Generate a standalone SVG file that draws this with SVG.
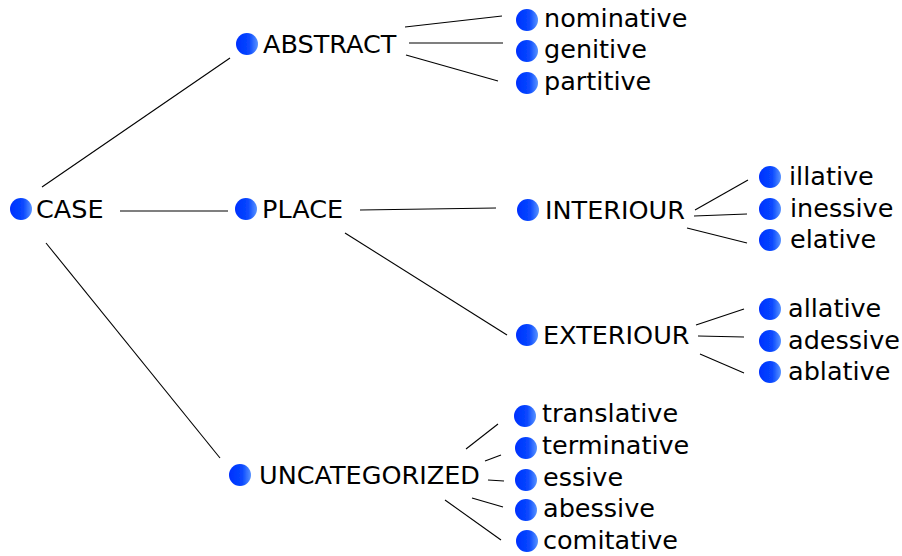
<svg xmlns="http://www.w3.org/2000/svg" width="902" height="556" viewBox="0 0 902 556">
<defs>
<linearGradient id="bg" x1="0" y1="0" x2="1" y2="0">
<stop offset="0" stop-color="#0030ff"/>
<stop offset="0.6" stop-color="#0848ff"/>
<stop offset="1" stop-color="#5a94ff"/>
</linearGradient>
<filter id="bl" x="-30%" y="-30%" width="160%" height="160%"><feGaussianBlur stdDeviation="0.7"/></filter>
</defs>
<style>
.b{fill:url(#bg);filter:url(#bl)}
text{font-family:"DejaVu Sans",sans-serif;font-size:25.5px;fill:#000}
#edges line{stroke:#000;stroke-width:1.1}
</style>
<rect width="902" height="556" fill="#fff"/>
<g id="edges">
<line x1="42" y1="187" x2="230" y2="58"/>
<line x1="120" y1="211" x2="228" y2="211"/>
<line x1="46" y1="243" x2="220" y2="458"/>
<line x1="405" y1="27" x2="502" y2="16"/>
<line x1="409" y1="43" x2="503" y2="43"/>
<line x1="406" y1="55" x2="498" y2="81"/>
<line x1="360" y1="210" x2="496" y2="208"/>
<line x1="345" y1="233" x2="507" y2="335"/>
<line x1="695" y1="210" x2="748" y2="180"/>
<line x1="694" y1="216" x2="747" y2="214"/>
<line x1="687" y1="228" x2="747" y2="243"/>
<line x1="696" y1="325" x2="744" y2="309"/>
<line x1="698" y1="336" x2="744" y2="337"/>
<line x1="700" y1="354" x2="744" y2="373"/>
<line x1="466" y1="449" x2="498" y2="424"/>
<line x1="485" y1="461" x2="501" y2="455"/>
<line x1="488" y1="480" x2="504" y2="481"/>
<line x1="472" y1="498" x2="503" y2="507"/>
<line x1="445" y1="500" x2="501" y2="540"/>
</g>
<g id="case"><circle class="b" cx="21" cy="209" r="11"/><text x="36" y="218">CASE</text></g>
<g id="abstract"><circle class="b" cx="247" cy="44" r="11"/><text x="263" y="53">ABSTRACT</text></g>
<g id="place"><circle class="b" cx="246" cy="209" r="11"/><text x="262" y="218">PLACE</text></g>
<g id="uncategorized"><circle class="b" cx="240" cy="475" r="11"/><text x="259" y="484">UNCATEGORIZED</text></g>
<g id="nominative"><circle class="b" cx="527" cy="20" r="11"/><text x="544" y="27">nominative</text></g>
<g id="genitive"><circle class="b" cx="527" cy="51" r="11"/><text x="544" y="58">genitive</text></g>
<g id="partitive"><circle class="b" cx="527" cy="83" r="11"/><text x="544" y="90">partitive</text></g>
<g id="interiour"><circle class="b" cx="528" cy="210" r="11"/><text x="545" y="219">INTERIOUR</text></g>
<g id="exteriour"><circle class="b" cx="527" cy="335" r="11"/><text x="543" y="344">EXTERIOUR</text></g>
<g id="illative"><circle class="b" cx="770" cy="177" r="11"/><text x="789" y="185">illative</text></g>
<g id="inessive"><circle class="b" cx="770" cy="209" r="11"/><text x="790" y="217">inessive</text></g>
<g id="elative"><circle class="b" cx="770" cy="240" r="11"/><text x="790" y="248">elative</text></g>
<g id="allative"><circle class="b" cx="770" cy="309" r="11"/><text x="788" y="317">allative</text></g>
<g id="adessive"><circle class="b" cx="770" cy="341" r="11"/><text x="788" y="349">adessive</text></g>
<g id="ablative"><circle class="b" cx="770" cy="372" r="11"/><text x="788" y="380">ablative</text></g>
<g id="translative"><circle class="b" cx="525" cy="416" r="11"/><text x="542" y="422">translative</text></g>
<g id="terminative"><circle class="b" cx="526" cy="448" r="11"/><text x="542" y="454">terminative</text></g>
<g id="essive"><circle class="b" cx="526" cy="480" r="11"/><text x="543" y="486">essive</text></g>
<g id="abessive"><circle class="b" cx="526" cy="510" r="11"/><text x="543" y="517">abessive</text></g>
<g id="comitative"><circle class="b" cx="527" cy="541" r="11"/><text x="543" y="549">comitative</text></g>
</svg>
